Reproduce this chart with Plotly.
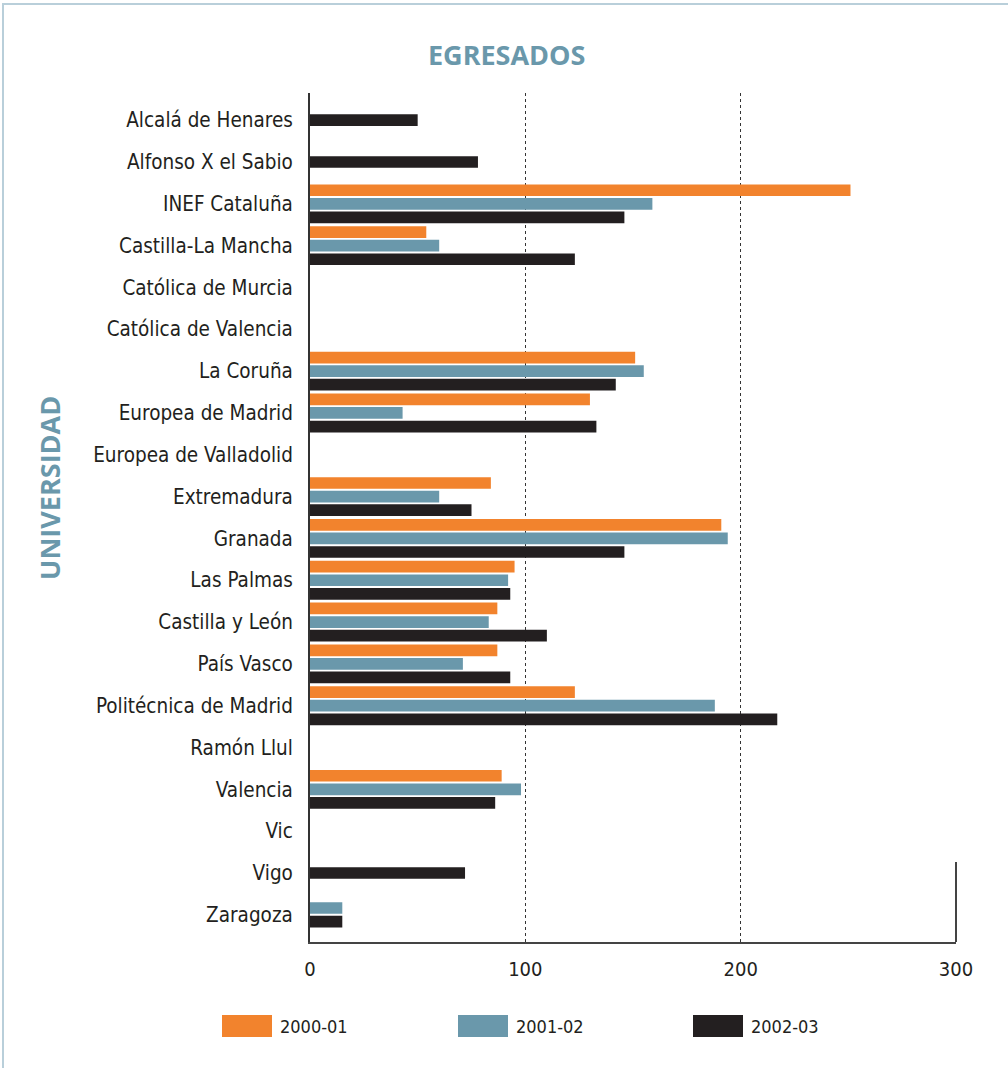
import plotly.graph_objects as go

categories = [
    "Alcalá de Henares", "Alfonso X el Sabio", "INEF Cataluña", "Castilla-La Mancha",
    "Católica de Murcia", "Católica de Valencia", "La Coruña", "Europea de Madrid",
    "Europea de Valladolid", "Extremadura", "Granada", "Las Palmas", "Castilla y León",
    "País Vasco", "Politécnica de Madrid", "Ramón Llul", "Valencia", "Vic", "Vigo", "Zaragoza",
]
s2000_01 = [None, None, 251, 54, None, None, 151, 130, None, 84, 191, 95, 87, 87, 123, None, 89, None, None, None]
s2001_02 = [None, None, 159, 60, None, None, 155, 43, None, 60, 194, 92, 83, 71, 188, None, 98, None, None, 15]
s2002_03 = [50, 78, 146, 123, None, None, 142, 133, None, 75, 146, 93, 110, 93, 217, None, 86, None, 72, 15]
series_names = ["2000-01", "2001-02", "2002-03"]
x_ticks = [0, 100, 200, 300]

colors = ["#F2832D", "#6A98AB", "#231F20"]
title_color = "#6A98AB"
label_font = "DejaVu Sans Condensed, Liberation Sans Narrow, Open Sans, sans-serif"
bold_font = "Open Sans, sans-serif"

series_values = [s2000_01, s2001_02, s2002_03]
W = 0.28
P = 0.325

# center the bars that exist in each category
offsets = [[0.0] * len(categories) for _ in series_values]
for i in range(len(categories)):
    present = [k for k, vals in enumerate(series_values) if vals[i] is not None]
    for j, k in enumerate(present):
        offsets[k][i] = -len(present) * P / 2 + j * P + (P - W) / 2

fig = go.Figure()
for k, (name, vals, col) in enumerate(zip(series_names, series_values, colors)):
    fig.add_trace(go.Bar(
        y=categories, x=vals, orientation="h", name=name,
        marker=dict(color=col, line=dict(width=0)),
        width=[W] * len(categories), offset=offsets[k], showlegend=False,
    ))

L, R, T, B = 310, 52, 93, 126
H = 1068 - T - B
Wd = 1008 - L - R


def px(x):
    return (x - L) / Wd


def py(y):
    return (1068 - B - y) / H


shapes = [
    dict(type="rect", xref="paper", yref="paper", x0=px(3), x1=px(1100), y0=py(1150), y1=py(4),
         line=dict(color="#B9CFDA", width=2), fillcolor="rgba(0,0,0,0)", layer="below"),
    dict(type="line", xref="paper", yref="paper", x0=1, x1=1, y0=0, y1=py(862),
         line=dict(color="#444444", width=2)),
]
annotations = [
    dict(text="<b>EGRESADOS</b>", xref="paper", yref="paper", x=px(506), y=py(55),
         showarrow=False, font=dict(family=bold_font, size=27, color=title_color),
         xanchor="center", yanchor="middle"),
    dict(text="<b>UNIVERSIDAD</b>", xref="paper", yref="paper", x=px(49), y=py(488),
         showarrow=False, textangle=-90, font=dict(family=bold_font, size=27, color=title_color),
         xanchor="center", yanchor="middle"),
]
legend_x = [222, 458, 693]
for lx, name, col in zip(legend_x, series_names, colors):
    shapes.append(dict(type="rect", xref="paper", yref="paper", x0=px(lx), x1=px(lx + 50),
                       y0=py(1037), y1=py(1015), fillcolor=col, line=dict(width=0)))
    annotations.append(dict(text=name, xref="paper", yref="paper", x=px(lx + 56), y=py(1026),
                            showarrow=False, xanchor="left", yanchor="middle",
                            font=dict(family=label_font, size=18, color="#231F20")))

fig.update_layout(
    width=1008, height=1068,
    margin=dict(l=L, r=R, t=T, b=B),
    paper_bgcolor="white", plot_bgcolor="white",
    barmode="overlay",
    shapes=shapes, annotations=annotations,
    font=dict(family=label_font, color="#231F20"),
    xaxis=dict(range=[0, 300], tickvals=x_ticks, ticktext=[str(t) for t in x_ticks],
               showgrid=True, griddash="3px,3px", gridcolor="#333333", gridwidth=1,
               showline=True, linecolor="#444444", linewidth=2, zeroline=False,
               ticks="", ticklabelstandoff=8,
               tickfont=dict(family=label_font, size=20, color="#231F20")),
    yaxis=dict(type="category", categoryorder="array", categoryarray=categories,
               range=[19.65, -0.65], showgrid=False, zeroline=False,
               showline=True, linecolor="#333333", linewidth=2,
               ticks="", ticklabelstandoff=11,
               tickfont=dict(family=label_font, size=20.5, color="#231F20")),
)

fig.write_html("out.html", config={"displayModeBar": False},
               post_script="document.body.style.margin='0px';document.body.style.padding='0px';")
